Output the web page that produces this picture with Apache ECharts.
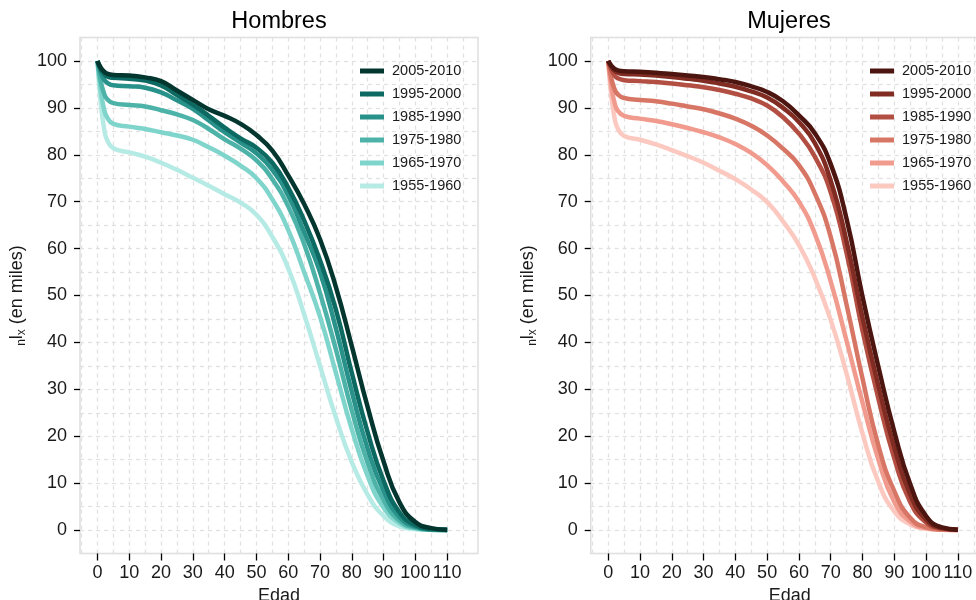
<!DOCTYPE html>
<html>
<head>
<meta charset="utf-8">
<script src="https://cdn.jsdelivr.net/npm/echarts@6/dist/echarts.min.js"></script>
<style>
  html, body { margin: 0; padding: 0; background: #fff; }
  #chart { width: 976px; height: 600px; }
</style>
</head>
<body>
<div id="chart"></div>
<script>
// Survival curves l(x) per 1000, by period, for men and women
const ages = [0, 1, 2, 3, 5, 10, 15, 20, 25, 30, 35, 40, 45, 50, 55, 60, 65, 70, 75, 80, 85, 90, 95, 100, 105, 110];
const periods = ['1955-1960', '1965-1970', '1975-1980', '1985-1990', '1995-2000', '2005-2010'];

const hombres1955 = [100, 91.2, 85.9, 83.2, 81.4, 80.5, 79.6, 78.3, 76.8, 75.1, 73.4, 71.6, 69.8, 67.2, 62.5, 55.8, 46.0, 35.0, 24.0, 14.5, 7.5, 3.0, 0.8, 0.18, 0.03, 0.005];
const hombres1965 = [100, 93.7, 89.9, 88.0, 86.6, 86.0, 85.5, 84.8, 84.1, 83.2, 81.6, 79.8, 77.7, 75.0, 70.5, 64.0, 55.0, 45.5, 33.5, 21.5, 11.5, 4.8, 1.5, 0.35, 0.06, 0.01];
const hombres1975 = [100, 95.8, 93.2, 91.9, 91.0, 90.6, 90.3, 89.5, 88.6, 87.4, 85.5, 83.3, 81.3, 78.8, 74.8, 69.0, 61.0, 50.5, 38.5, 25.5, 14.3, 6.4, 2.0, 0.5, 0.08, 0.01];
const hombres1985 = [100, 97.6, 96.1, 95.4, 94.8, 94.6, 94.3, 93.3, 91.6, 89.8, 87.3, 84.8, 82.6, 80.3, 76.8, 71.3, 63.5, 55.0, 43.0, 29.5, 17.3, 8.3, 2.8, 0.7, 0.12, 0.02];
const hombres1995 = [100, 98.3, 97.3, 96.7, 96.4, 96.2, 95.8, 94.8, 92.7, 90.7, 88.3, 85.8, 83.5, 81.5, 78.3, 73.0, 66.0, 57.5, 47.0, 33.5, 20.8, 10.5, 3.8, 1.0, 0.2, 0.03];
const hombres2005 = [100, 98.6, 97.8, 97.3, 97.0, 96.9, 96.5, 95.7, 93.7, 91.7, 89.7, 88.3, 86.6, 84.2, 80.9, 75.6, 69.5, 62.0, 51.8, 39.2, 26.2, 14.6, 5.9, 1.7, 0.4, 0.05];

const mujeres1955 = [100, 92.4, 87.9, 85.6, 84.0, 83.2, 82.2, 81.0, 79.7, 78.3, 76.6, 74.8, 72.6, 69.9, 65.8, 60.8, 53.8, 44.8, 33.3, 20.6, 10.2, 4.0, 1.2, 0.25, 0.04, 0.005];
const mujeres1965 = [100, 94.5, 91.1, 89.4, 88.3, 87.7, 87.2, 86.5, 85.7, 84.8, 83.7, 82.3, 80.4, 77.8, 74.3, 70.0, 63.2, 53.0, 40.3, 27.2, 15.0, 6.0, 1.8, 0.4, 0.07, 0.01];
const mujeres1975 = [100, 96.3, 94.0, 92.9, 92.1, 91.7, 91.4, 90.9, 90.3, 89.7, 88.8, 87.7, 86.2, 84.1, 81.3, 77.8, 71.8, 62.5, 48.0, 32.3, 18.0, 8.3, 2.6, 0.6, 0.1, 0.02];
const mujeres1985 = [100, 98.1, 96.9, 96.3, 95.9, 95.7, 95.5, 95.2, 94.8, 94.4, 93.8, 93.0, 92.0, 90.5, 88.0, 84.5, 79.6, 72.0, 59.0, 42.5, 28.0, 15.3, 6.0, 1.6, 0.28, 0.04];
const mujeres1995 = [100, 98.7, 97.9, 97.5, 97.2, 97.1, 96.9, 96.6, 96.2, 95.8, 95.2, 94.5, 93.5, 92.2, 90.0, 87.0, 82.5, 74.5, 61.5, 45.3, 30.7, 17.6, 7.6, 2.2, 0.4, 0.05];
const mujeres2005 = [100, 99.0, 98.3, 98.0, 97.8, 97.7, 97.5, 97.2, 96.9, 96.6, 96.1, 95.5, 94.6, 93.4, 91.4, 88.4, 84.6, 78.0, 66.3, 49.8, 34.8, 21.0, 9.8, 3.0, 0.55, 0.08];

// Axis breaks
const xTickValues = [0, 10, 20, 30, 40, 50, 60, 70, 80, 90, 100, 110];
const yTickValues = [0, 10, 20, 30, 40, 50, 60, 70, 80, 90, 100];
const xGridValues = [-5, 0, 5, 10, 15, 20, 25, 30, 35, 40, 45, 50, 55, 60, 65, 70, 75, 80, 85, 90, 95, 100, 105, 110, 115];
const yGridValues = [-5, 0, 5, 10, 15, 20, 25, 30, 35, 40, 45, 50, 55, 60, 65, 70, 75, 80, 85, 90, 95, 100, 105];

const hombres = [hombres1955, hombres1965, hombres1975, hombres1985, hombres1995, hombres2005];
const mujeres = [mujeres1955, mujeres1965, mujeres1975, mujeres1985, mujeres1995, mujeres2005];
const tealColors = ['#b6ebe5', '#7fd4cb', '#4db3a8', '#28918a', '#0d6a62', '#03362f'];
const redColors = ['#fcc9c1', '#f09b8e', '#d87666', '#b34f42', '#812c23', '#4d1510'];

const FONT = '"Liberation Sans", Arial, Helvetica, sans-serif';
const TEXT = '#1a1a1a';
const X_MIN = -5.5, X_MAX = 119.7, Y_MIN = -5, Y_MAX = 105;

const gridLine = { show: true, lineStyle: { color: '#e1e1e1', width: 1.3, type: [4, 4] } };

function mainX(gridIndex) {
  return {
    gridIndex, type: 'value', min: X_MIN, max: X_MAX,
    axisLine: { show: false, onZero: false },
    axisTick: { show: true, customValues: xTickValues, length: 7, lineStyle: { color: '#000', width: 1.3 } },
    axisLabel: { customValues: xTickValues, margin: 11, fontSize: 18, color: TEXT, fontFamily: FONT },
    splitLine: { show: false },
    name: 'Edad', nameLocation: 'middle', nameGap: 32,
    nameTextStyle: { fontSize: 18, color: TEXT, fontFamily: FONT }
  };
}
function gridX(gridIndex) {
  return {
    gridIndex, type: 'value', min: X_MIN, max: X_MAX, position: 'bottom',
    axisLine: { show: false, onZero: false },
    axisTick: { show: false, customValues: xGridValues },
    axisLabel: { show: false },
    splitLine: gridLine
  };
}
function mainY(gridIndex) {
  return {
    gridIndex, type: 'value', min: Y_MIN, max: Y_MAX,
    axisLine: { show: false, onZero: false },
    axisTick: { show: true, customValues: yTickValues, length: 6, lineStyle: { color: '#000', width: 1.3 } },
    axisLabel: { customValues: yTickValues, margin: 13, fontSize: 18, color: TEXT, fontFamily: FONT },
    splitLine: { show: false },
    name: '{s|n}{m|l}{s|x}{m| (en miles)}', nameLocation: 'middle', nameGap: 52,
    nameTextStyle: {
      color: TEXT, fontFamily: FONT, fontSize: 18,
      rich: {
        m: { fontSize: 18, fontFamily: FONT, color: TEXT, lineHeight: 22 },
        s: { fontSize: 12, fontFamily: FONT, color: TEXT, lineHeight: 12, verticalAlign: 'bottom' }
      }
    }
  };
}
function gridY(gridIndex) {
  return {
    gridIndex, type: 'value', min: Y_MIN, max: Y_MAX, position: 'left',
    axisLine: { show: false, onZero: false },
    axisTick: { show: false, customValues: yGridValues },
    axisLabel: { show: false },
    splitLine: gridLine
  };
}

function makeSeries(prefix, values, colors, axisIndex) {
  return values.map((vals, i) => ({
    name: prefix + ' ' + periods[i],
    type: 'line',
    xAxisIndex: axisIndex, yAxisIndex: axisIndex,
    data: ages.map((a, k) => [a, vals[k]]),
    smooth: 0.5,
    symbol: 'none',
    lineStyle: { color: colors[i], width: 4.5 },
    itemStyle: { color: colors[i] },
    emphasis: { disabled: true },
    z: 2 + i
  }));
}

function makeLegend(prefix, left) {
  return {
    data: periods.slice().reverse().map(p => prefix + ' ' + p),
    orient: 'vertical', left, top: 63, padding: 0,
    icon: 'rect', itemWidth: 24, itemHeight: 5, itemGap: 7,
    selectedMode: false,
    formatter: name => name.split(' ')[1],
    textStyle: { fontSize: 14.5, color: TEXT, fontFamily: FONT, lineHeight: 16, padding: [0, 0, 0, 3] }
  };
}

const gridBase = { top: 37.5, width: 398, height: 516, show: true, borderColor: '#dedede', borderWidth: 1.5, backgroundColor: '#fff', containLabel: false, outerBoundsMode: 'none' };

const chart = echarts.init(document.getElementById('chart'), null, { renderer: 'canvas' });
chart.setOption({
  animation: false,
  backgroundColor: '#fff',
  grid: [
    Object.assign({ left: 80 }, gridBase),
    Object.assign({ left: 590.7 }, gridBase)
  ],
  xAxis: [mainX(0), gridX(0), mainX(1), gridX(1)],
  yAxis: [mainY(0), gridY(0), mainY(1), gridY(1)],
  legend: [makeLegend('Hombres', 360), makeLegend('Mujeres', 870)],
  graphic: [
    { type: 'text', x: 279, y: 22, style: { text: 'Hombres', font: '23.5px ' + FONT, fill: '#000', textAlign: 'center', textVerticalAlign: 'middle' } },
    { type: 'text', x: 789, y: 22, style: { text: 'Mujeres', font: '23.5px ' + FONT, fill: '#000', textAlign: 'center', textVerticalAlign: 'middle' } }
  ],
  series: [
    ...makeSeries('Hombres', hombres, tealColors, 0),
    ...makeSeries('Mujeres', mujeres, redColors, 2)
  ]
});
</script>
</body>
</html>
